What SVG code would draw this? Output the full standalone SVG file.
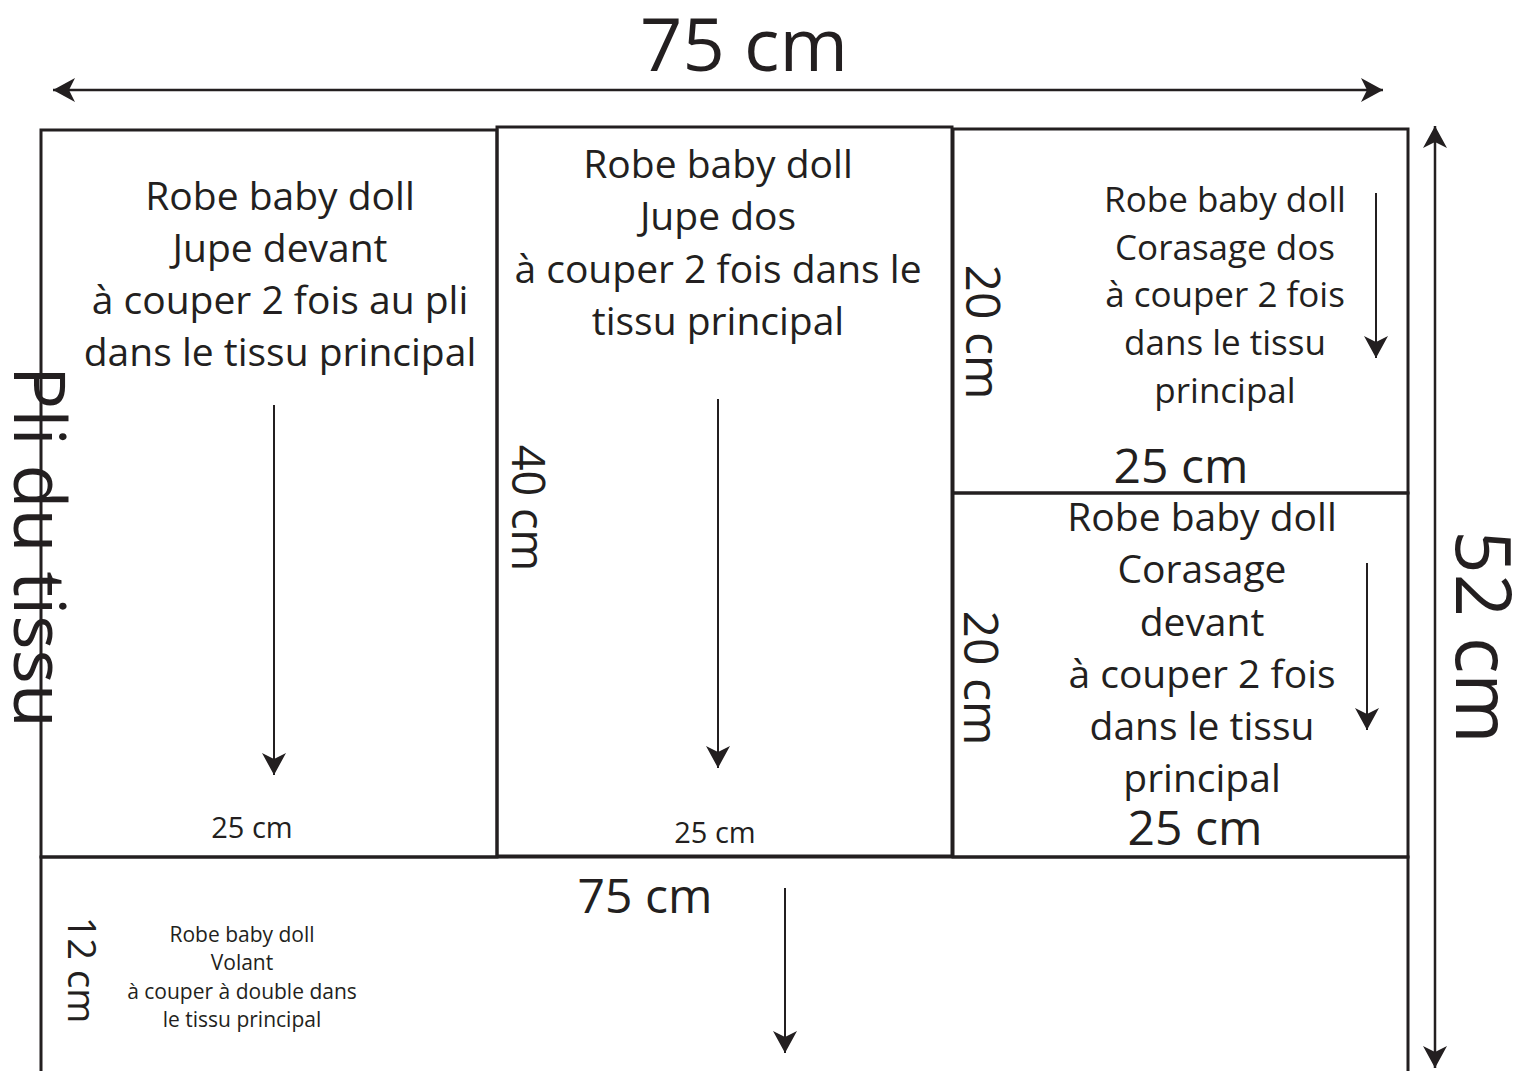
<svg xmlns="http://www.w3.org/2000/svg" width="1525" height="1071" viewBox="0 0 1525 1071">
<style>
  .t { font-family: "Open Sans", "Liberation Sans", sans-serif; fill: #231f20; text-anchor: middle; }
  .box { fill: none; stroke: #231f20; stroke-width: 3; }
  .dim { stroke: #231f20; stroke-width: 2.5; fill: none; }
  .grain { stroke: #231f20; stroke-width: 2; fill: none; marker-end: url(#ah); }
</style>
<defs>
  <marker id="ah" viewBox="0 0 22 24" refX="22" refY="12" markerWidth="22" markerHeight="24" markerUnits="userSpaceOnUse" orient="auto-start-reverse">
    <path d="M0,0 L22,12 L0,24 L6,12 Z" fill="#231f20"/>
  </marker>
</defs>
<rect width="1525" height="1071" fill="#ffffff"/>

<g id="connectors">
  <line class="dim" x1="53" y1="90" x2="1383" y2="90" marker-start="url(#ah)" marker-end="url(#ah)"/>
  <line class="dim" x1="1435" y1="126" x2="1435" y2="1068" marker-start="url(#ah)" marker-end="url(#ah)"/>
  <line class="grain" x1="274" y1="405" x2="274" y2="775"/>
  <line class="grain" x1="718" y1="399" x2="718" y2="768"/>
  <line class="grain" x1="1376" y1="193" x2="1376" y2="358"/>
  <line class="grain" x1="1367" y1="563" x2="1367" y2="730"/>
  <line class="grain" x1="785" y1="888" x2="785" y2="1053"/>
</g>

<g id="dim-top">
  <text class="t" x="744" y="71" font-size="74">75 cm</text>
</g>
<g id="dim-right">
  <text class="t" transform="translate(1456,637) rotate(90)" font-size="76">52 cm</text>
</g>

<g id="jupe-devant">
  <rect class="box" x="41" y="130" width="456" height="727"/>
  <text class="t" x="280" y="210" font-size="39">Robe baby doll</text>
  <text class="t" x="280" y="262" font-size="39">Jupe devant</text>
  <text class="t" x="280" y="314" font-size="39">à couper 2 fois au pli</text>
  <text class="t" x="280" y="366" font-size="39">dans le tissu principal</text>
  <text class="t" x="252" y="838" font-size="29">25 cm</text>
  <text class="t" transform="translate(14,547) rotate(90)" font-size="72">Pli du tissu</text>
</g>

<g id="jupe-dos">
  <rect class="box" x="497" y="127" width="455" height="729"/>
  <text class="t" x="718" y="178" font-size="39">Robe baby doll</text>
  <text class="t" x="718" y="230" font-size="39">Jupe dos</text>
  <text class="t" x="718" y="283" font-size="39">à couper 2 fois dans le</text>
  <text class="t" x="718" y="335" font-size="39">tissu principal</text>
  <text class="t" x="715" y="843" font-size="29">25 cm</text>
  <text class="t" transform="translate(512,508) rotate(90)" font-size="45">40 cm</text>
</g>

<g id="corsage-dos">
  <rect class="box" x="953" y="129" width="455" height="364"/>
  <text class="t" x="1225" y="212" font-size="35">Robe baby doll</text>
  <text class="t" x="1225" y="260" font-size="35">Corasage dos</text>
  <text class="t" x="1225" y="307" font-size="35">à couper 2 fois</text>
  <text class="t" x="1225" y="355" font-size="35">dans le tissu</text>
  <text class="t" x="1225" y="403" font-size="35">principal</text>
  <text class="t" x="1181" y="483" font-size="48">25 cm</text>
  <text class="t" transform="translate(966,332) rotate(90)" font-size="48">20 cm</text>
</g>

<g id="corsage-devant">
  <rect class="box" x="953" y="493" width="455" height="364"/>
  <text class="t" x="1202" y="531" font-size="39">Robe baby doll</text>
  <text class="t" x="1202" y="583" font-size="39">Corasage</text>
  <text class="t" x="1202" y="636" font-size="39">devant</text>
  <text class="t" x="1202" y="688" font-size="39">à couper 2 fois</text>
  <text class="t" x="1202" y="740" font-size="39">dans le tissu</text>
  <text class="t" x="1202" y="792" font-size="39">principal</text>
  <text class="t" x="1195" y="845" font-size="48">25 cm</text>
  <text class="t" transform="translate(964,678) rotate(90)" font-size="48">20 cm</text>
</g>

<g id="volant">
  <path class="box" d="M41,1071 L41,857 L1408,857 L1408,1071"/>
  <text class="t" x="645" y="913" font-size="48">75 cm</text>
  <text class="t" x="242" y="942" font-size="21">Robe baby doll</text>
  <text class="t" x="242" y="970" font-size="21">Volant</text>
  <text class="t" x="242" y="999" font-size="21">à couper à double dans</text>
  <text class="t" x="242" y="1027" font-size="21">le tissu principal</text>
  <text class="t" transform="translate(68,970) rotate(90)" font-size="38">12 cm</text>
</g>
</svg>
